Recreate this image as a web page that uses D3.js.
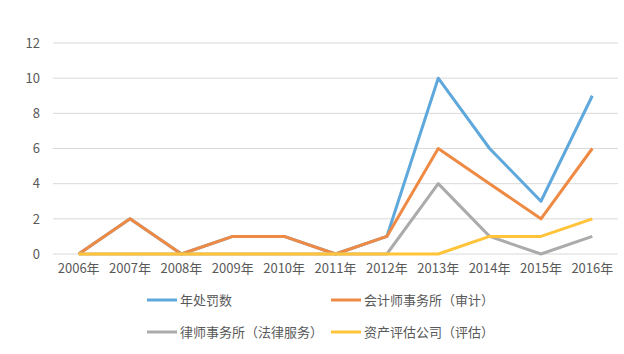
<!DOCTYPE html>
<html>
<head>
<meta charset="utf-8">
<script src="https://cdnjs.cloudflare.com/ajax/libs/d3/7.8.5/d3.min.js"></script>
<style>
  body { margin: 0; background: #fff; }
  text { font-family: "Noto Sans CJK SC", "Noto Sans", sans-serif; fill: #595959; }
</style>
</head>
<body>
<div id="chart"></div>
<script>
// data
var years = ['2006年', '2007年', '2008年', '2009年', '2010年', '2011年', '2012年', '2013年', '2014年', '2015年', '2016年']
var seriesNames = ['年处罚数', '会计师事务所（审计）', '律师事务所（法律服务）', '资产评估公司（评估）']
var totalValues = [0, 2, 0, 1, 1, 0, 1, 10, 6, 3, 9]
var auditValues = [0, 2, 0, 1, 1, 0, 1, 6, 4, 2, 6]
var lawValues = [0, 0, 0, 0, 0, 0, 0, 4, 1, 0, 1]
var valuationValues = [0, 0, 0, 0, 0, 0, 0, 0, 1, 1, 2]
var yTicks = [0, 2, 4, 6, 8, 10, 12]
var colors = ['#5fa8dc', '#ef8a44', '#ababab', '#ffc43a']

var series = [totalValues, auditValues, lawValues, valuationValues].map((v, i) => ({
  name: seriesNames[i],
  color: colors[i],
  values: v
}))

var margin = { top: 43, left: 53, right: 6, bottom: 100 }
var width = 624 - margin.left - margin.right
var height = 354 - margin.top - margin.bottom

var svg = d3
  .select('#chart')
  .append('svg')
  .attr('width', 624)
  .attr('height', 354)
  .append('g')
  .attr('transform', 'translate(' + margin.left + ',' + margin.top + ')')

var xPositionScale = d3.scaleBand().domain(years).range([0, width])
var yPositionScale = d3.scaleLinear().domain([0, 12]).range([height, 0])

// gridlines
svg
  .selectAll('.grid')
  .data(yTicks)
  .enter()
  .append('line')
  .attr('x1', 0)
  .attr('x2', width)
  .attr('y1', d => yPositionScale(d))
  .attr('y2', d => yPositionScale(d))
  .attr('stroke', '#d9d9d9')
  .attr('stroke-width', 1)

var yAxis = d3.axisLeft(yPositionScale).tickValues(yTicks).tickSize(0).tickPadding(13)
svg
  .append('g')
  .attr('class', 'axis y-axis')
  .call(yAxis)
  .call(g => g.select('.domain').remove())
  .selectAll('text')
  .attr('font-size', 13)

var xAxis = d3.axisBottom(xPositionScale).tickSize(0).tickPadding(10)
svg
  .append('g')
  .attr('class', 'axis x-axis')
  .attr('transform', 'translate(0,' + height + ')')
  .call(xAxis)
  .call(g => g.select('.domain').remove())
  .selectAll('text')
  .attr('font-size', 13)

var line = d3
  .line()
  .x((d, i) => xPositionScale(years[i]) + xPositionScale.bandwidth() / 2)
  .y(d => yPositionScale(d))

svg
  .selectAll('.series')
  .data(series)
  .enter()
  .append('path')
  .attr('class', 'series')
  .attr('d', d => line(d.values))
  .attr('fill', 'none')
  .attr('stroke', d => d.color)
  .attr('stroke-width', 3)
  .attr('stroke-linejoin', 'round')

// legend, two rows of two
var legend = svg
  .selectAll('.legend')
  .data(series)
  .enter()
  .append('g')
  .attr('class', 'legend')
  .attr('transform', (d, i) => 'translate(' + (94 + (i % 2) * 184) + ',' + (257 + Math.floor(i / 2) * 32) + ')')

legend
  .append('line')
  .attr('x1', 0)
  .attr('x2', 30)
  .attr('stroke', d => d.color)
  .attr('stroke-width', 3)

legend
  .append('text')
  .attr('x', 33)
  .attr('dy', '0.35em')
  .attr('font-size', 13)
  .text(d => d.name)
</script>
</body>
</html>
